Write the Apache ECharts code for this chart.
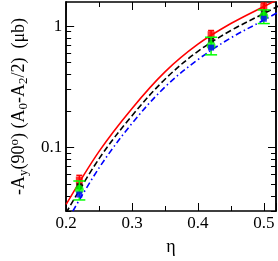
<!DOCTYPE html>
<html>
<head>
<meta charset="utf-8">
<script src="https://cdn.jsdelivr.net/npm/echarts@6/dist/echarts.min.js"></script>
<style>html,body{margin:0;padding:0;background:#fff}#c{width:278px;height:261px}</style>
</head>
<body>
<div id="c"></div>
<script>
// ---- data ----
const curveEta = [0.20, 0.25, 0.30, 0.35, 0.40, 0.45, 0.50, 0.55];
const redCurve   = [0.034, 0.093, 0.210, 0.42, 0.71, 1.05, 1.45, 1.98];
const blackCurve = [0.029, 0.081, 0.183, 0.365, 0.62, 0.92, 1.27, 1.75];
const blueCurve  = [0.024, 0.068, 0.158, 0.315, 0.53, 0.80, 1.12, 1.58];

const pointEta = [0.22, 0.42, 0.50];
const redPts   = [0.054, 0.85, 1.44];
const redLo    = [0.050, 0.80, 1.36];
const redHi    = [0.059, 0.92, 1.55];
const blackPts = [0.048, 0.77, 1.28];
const greenPts = [0.045, 0.69, 1.21];
const greenLo  = [0.037, 0.58, 1.05];
const greenHi  = [0.053, 0.81, 1.36];
const bluePts  = [0.041, 0.665, 1.15];

const yMajor = [0.1, 1];
const yMinor = [0.03,0.04,0.05,0.06,0.07,0.08,0.09,0.2,0.3,0.4,0.5,0.6,0.7,0.8,0.9];
const xMin = 0.2, xMax = 0.5185, yMin = 0.03, yMax = 1.58;

// ---- build ----
const L = Math.log10;
const pairs = (xs, ys) => xs.map((x, i) => [x, L(ys[i])]);
const errs = (xs, lo, hi) => xs.map((x, i) => [x, L(lo[i]), L(hi[i])]);
const font = 'Liberation Serif';

function errRender(color, cap) {
  return function (params, api) {
    const x = api.value(0);
    const p1 = api.coord([x, api.value(1)]);
    const p2 = api.coord([x, api.value(2)]);
    const st = { stroke: color, lineWidth: 1.5 };
    return { type: 'group', children: [
      { type: 'line', shape: { x1: p1[0], y1: p1[1], x2: p2[0], y2: p2[1] }, style: st },
      { type: 'line', shape: { x1: p1[0] - cap, y1: p1[1], x2: p1[0] + cap, y2: p1[1] }, style: st },
      { type: 'line', shape: { x1: p2[0] - cap, y1: p2[1], x2: p2[0] + cap, y2: p2[1] }, style: st }
    ]};
  };
}

const axLine = { show: true, onZero: false, lineStyle: { color: '#000', width: 1.5 } };
function yAx(pos, values, len, labels) {
  return {
    type: 'value', position: pos, min: L(yMin), max: L(yMax),
    axisLine: axLine, splitLine: { show: false },
    axisTick: { show: true, inside: true, length: len, customValues: values.map(L), lineStyle: { color: '#000', width: 1 } },
    axisLabel: labels ? {
      show: true, customValues: values.map(L), margin: 4,
      formatter: v => String(Math.round(Math.pow(10, v) * 1000) / 1000),
      fontFamily: font, fontSize: 17, color: '#000'
    } : { show: false }
  };
}
function xAx(pos, labels) {
  return {
    type: 'value', position: pos, min: xMin, max: xMax, interval: 0.1,
    axisLine: axLine, splitLine: { show: false },
    axisTick: { show: true, inside: true, length: 8, lineStyle: { color: '#000', width: 1 } },
    minorTick: { show: true, splitNumber: 2, length: 5, lineStyle: { color: '#000', width: 1 } },
    axisLabel: labels ? { show: true, margin: 4, fontFamily: font, fontSize: 17, color: '#000',
      formatter: v => (v > 0.5 + 1e-9 ? '' : v.toFixed(1)), showMaxLabel: false } : { show: false },
    name: labels ? 'η' : '', nameLocation: 'middle', nameGap: 27,
    nameTextStyle: { fontFamily: font, fontSize: 18, color: '#000' }
  };
}

const y0 = yAx('left', yMajor, 8, true);
y0.name = '{n|-A}{s|y}{n|(90}{p|o}{n|) (A}{s|0}{n|-A}{s|2}{n|/2)  (μb)}';
y0.nameLocation = 'middle';
y0.nameGap = 31;
y0.nameTextStyle = {
  fontFamily: font, color: '#000',
  rich: {
    n: { fontFamily: font, fontSize: 18, color: '#000', verticalAlign: 'middle', lineHeight: 22 },
    s: { fontFamily: font, fontSize: 13, color: '#000', verticalAlign: 'bottom', lineHeight: 22 },
    p: { fontFamily: font, fontSize: 13, color: '#000', verticalAlign: 'top', lineHeight: 22 }
  }
};

const lineCommon = { type: 'line', smooth: 0.35, showSymbol: false, clip: true, z: 2 };
const option = {
  animation: false,
  backgroundColor: '#fff',
  grid: { left: 61, right: 2, top: 2, bottom: 40, containLabel: false },
  xAxis: [xAx('bottom', true), xAx('top', false)],
  yAxis: [y0, yAx('left', yMinor, 5, false), yAx('right', yMajor, 8, false), yAx('right', yMinor, 5, false)],
  series: [
    Object.assign({}, lineCommon, { data: pairs(curveEta, redCurve), lineStyle: { color: '#ff0000', width: 1.6 } }),
    Object.assign({}, lineCommon, { data: pairs(curveEta, blackCurve), lineStyle: { color: '#000', width: 1.6, type: [6, 3] } }),
    Object.assign({}, lineCommon, { data: pairs(curveEta, blueCurve), lineStyle: { color: '#0000ff', width: 1.6, type: [6, 3, 1.5, 3] } }),
    { type: 'custom', data: errs(pointEta, redLo, redHi), renderItem: errRender('#ff0000', 3), z: 3, clip: true },
    { type: 'scatter', data: pairs(pointEta, redPts), symbol: 'rect', symbolSize: 7,
      itemStyle: { color: '#ff0000' }, z: 4 },
    { type: 'scatter', data: pairs(pointEta, blackPts), symbol: 'rect', symbolSize: 6,
      itemStyle: { color: '#000' }, z: 5 },
    { type: 'custom', data: errs(pointEta, greenLo, greenHi), renderItem: errRender('#00ff00', 6), z: 6, clip: true },
    { type: 'scatter', data: pairs(pointEta, greenPts), symbol: 'circle', symbolSize: 9,
      itemStyle: { color: '#00ff00' }, z: 6 },
    { type: 'scatter', data: pairs(pointEta, bluePts), symbol: 'rect', symbolSize: 6,
      itemStyle: { color: '#0000ff' }, z: 7 }
  ]
};
echarts.init(document.getElementById('c')).setOption(option);
</script>
</body>
</html>
